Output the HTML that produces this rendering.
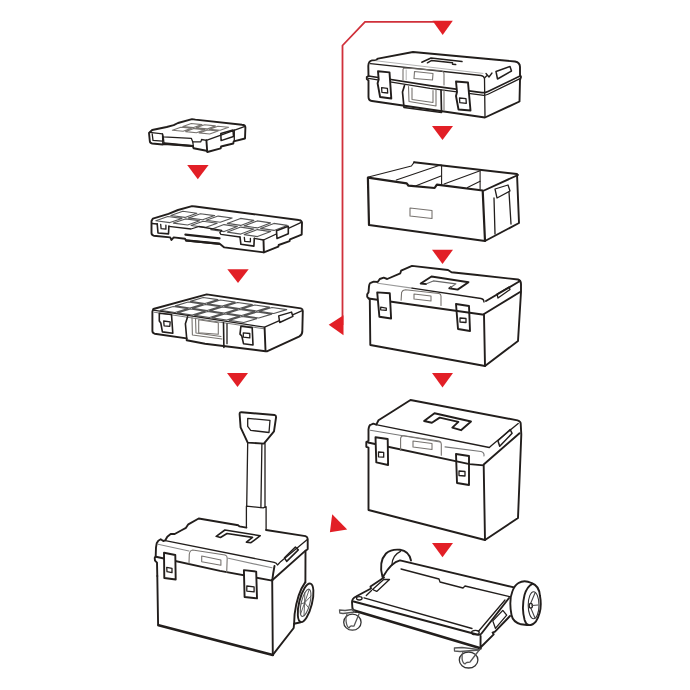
<!DOCTYPE html>
<html><head><meta charset="utf-8"><title>Toolbox system</title>
<style>
html,body{margin:0;padding:0;background:#fff;width:690px;height:690px;overflow:hidden;font-family:"Liberation Sans",sans-serif;}
svg{display:block}
.k{fill:none;stroke:#221e1c;stroke-width:1.9;stroke-linejoin:round;stroke-linecap:round}
.t{fill:none;stroke:#221e1c;stroke-width:1.3;stroke-linejoin:round;stroke-linecap:round}
.g{fill:none;stroke:#77736f;stroke-width:1.1;stroke-linejoin:round;stroke-linecap:round}
.h{fill:none;stroke:#221e1c;stroke-width:2.6;stroke-linejoin:round;stroke-linecap:round}
.r{fill:#e21f26}
.rl{fill:none;stroke:#d0303a;stroke-width:1.8}
</style></head>
<body>
<svg width="690" height="690" viewBox="0 0 690 690">
<!-- red path + arrows -->
<g id="red">
<polyline class="rl" points="342.5,325 342.5,45.5 365,21.8 434,21.8"/>
<polygon class="r" points="432.5,20.7 452.8,20.7 442.7,34.9"/>
<polygon class="r" points="343.5,315.2 343.5,335.2 328.7,324.8"/>
<polygon class="r" points="432,125.9 453,125.9 442.5,140"/>
<polygon class="r" points="432,249.8 453,249.8 442.5,263.9"/>
<polygon class="r" points="432,373.1 453,373.1 442.5,387.5"/>
<polygon class="r" points="432,543 453,543 442.5,557.2"/>
<polygon class="r" points="187.2,165.1 208.6,165.1 197.8,179.3"/>
<polygon class="r" points="227.3,269.3 248.7,269.3 238,282.9"/>
<polygon class="r" points="227,373 248,373 237.5,387"/>
<polygon class="r" points="332.2,514.3 329.9,532.2 347.2,529.6"/>
</g>

<!-- Box A: case -->
<g id="A">
<path class="k" d="M368.3,66 Q368.5,61 372,60.4 L376.1,60.1 L378,58.6 L413,52 L515,61.5 Q520,62.5 520,67 L520,75 L521,77 L520,80 L519.5,101.5 L485,117.5 L372,101 Q368.5,100.5 368.5,97 L368.5,80.5 L366.8,79 L366.8,77 L368.5,76 Z"/>
<path class="t" d="M370.5,63.7 L481,75.5 Q484,76 484.5,78.5 L485,117"/>
<path class="t" d="M485,77.5 L487,75.5 M486,73.5 L489,77 L492,73"/>
<path class="t" d="M368.5,76 L430,85.6 L482,92.6 Q485,93.1 488,91.6 L520,76" style="stroke-width:1.7"/>
<path class="t" d="M368.5,78.4 L430,88.4 L482,95.2 Q485,95.7 488,94.3 L520,78.6" style="stroke-width:1.2"/>
<path class="k" d="M378,71.3 L389.5,72.4 L391.3,98.5 L380.1,97 L377.6,83.3 L378.7,79.6 Z" style="fill:#fff"/>
<path class="t" d="M381.6,87.6 L387.4,88.3 L387.7,93 L381.9,92.3 Z"/>
<path class="k" d="M456,81.5 L468,82.5 L470.5,110.5 L458.5,109.5 L456,96 L457,92 Z" style="fill:#fff"/>
<path class="t" d="M459.5,98 L466,98.6 L466.3,103.3 L459.8,102.7 Z"/>
<path class="g" d="M403,80 L403,69.5 Q403,68 405,68 L440,70.5 Q444,71 444,74 L444,85"/>
<path class="g" d="M414.5,71.5 L433,73.5 L432.5,80 L414,78.5 Z"/>
<path class="k" d="M404.5,85.5 L402.5,92 L404,107.5 L441.5,112.5 L441,90" style="stroke-width:1.7"/>
<path class="g" d="M444,90 L444,110"/>
<path class="g" d="M408.5,86.5 L409,101.5 L436,106 L436,90"/>
<path class="g" d="M412,88 L412,99.5 L433,102.5 L433,90.5"/>
<path class="t" d="M421.8,62.2 L431,58 L462,61.6 M427.4,62.8 L431.7,60.4 L452.5,62.8 M452.5,64.2 L455.7,64.6" style="stroke-width:1.5"/>
<path class="g" d="M376,60.8 L483,73.4" style="stroke:#aaa;stroke-width:0.9"/>
<path class="t" d="M406.2,70 L406.2,79.8" style="stroke:#aaa;stroke-width:0.9"/>
<path class="k" d="M496,71.5 L510,66.5 L511.5,71 L497.5,79 Z" style="stroke-width:1.5"/>
</g>

<!-- Box B: open tray -->
<g id="B">
<path class="k" d="M367.9,177.6 L406.7,183.4 L408.5,185.7 L434.6,188 L436.9,184.6 L482.7,190.5 L485,241 L369,225 Z" style="stroke-width:2.2"/>
<path class="k" d="M414,162.2 L517,174 L519,223 L485,241"/>
<path class="k" d="M484,190.5 L518,175"/>
<path class="t" d="M441.6,165.1 L441.6,184.4" style="stroke-width:1.1"/>
<path class="t" d="M480.1,170.7 L480.1,189" style="stroke-width:1.1"/>
<path class="t" d="M368.5,177 L411.4,166 L414.3,162.2" style="stroke-width:1.1"/>
<path class="t" d="M396.3,180 L440.4,165" style="stroke-width:1.1"/>
<path class="t" d="M416,185.7 L441,176" style="stroke-width:1.1"/>
<path class="t" d="M444.1,183.9 L480.1,170.7" style="stroke-width:1.1"/>
<path class="t" d="M467.5,187.4 L480.1,181.3" style="stroke-width:1.1"/>
<path class="g" d="M410,208 L432,210.5 L432,218.5 L410,216 Z"/>
<path class="t" d="M495,189 L508,185 L510,191 L497,198 Z"/>
<path class="t" d="M494,198 L495,234"/>
<path class="t" d="M509,192 L511,224"/>
</g>

<!-- Box C -->
<g id="C">
<path class="k" d="M369,286.3 Q369.5,283 370.7,282.9 L373.7,281.6 L377.7,282 L379.8,279 L383.7,277.7 L387.2,279 L400.3,273.3 L401.1,270.7 L412,265.9 L448,270 L451.5,272.2 L475,274.8 L518,279.5 Q521,280.5 521,284 L521,292 L518,341 L485,366 L370.3,345 L369.8,299.4 L367.2,296.8 L367.2,294.2 L368.5,292.4 Z"/>
<path class="g" d="M377.7,283.3 L412,288.1" style="stroke:#999"/>
<path class="t" d="M412,288.1 L481,298.5 Q484,299 484,302"/>
<path class="k" d="M368.5,298.5 L484,314.7 L485,366"/>
<path class="k" d="M484,314 L520,292"/>
<path class="k" d="M486,301 L520,281"/>
<path class="k" d="M377.2,292.4 L389.8,293.3 L391.1,318.5 L379.4,316.8 Z" style="fill:#fff"/>
<path class="t" d="M380.7,307.2 L386.3,308.1 L386.3,310.3 L380.7,309.8 Z"/>
<path class="k" d="M456,304 L469,306 L470,331 L458,329 Z"/>
<path class="t" d="M460,318 L466,318.5 L466,322.5 L460,322 Z"/>
<path class="g" d="M401.1,300.3 L401.6,292.4 Q402.5,290 405.5,289.8 L439,293.5 Q441,294 441,296 L441,305.5"/>
<path class="g" d="M414,294 L431,296 L431,301 L414,299 Z"/>
<path class="k" d="M426,284 L420.7,283.5 L431.5,276.5 L468.5,282.2 L457.6,289.6 L449.3,288.3 L451,287"/>
<path class="g" d="M425.9,283.9 L433.3,280.9 L455.9,283.9 L450.2,287.8" style="stroke:#666"/>
<path class="t" d="M497,294 L509,287 L510,289.5 L498,298 Z"/>
</g>

<!-- Box D -->
<g id="D">
<path class="k" d="M368.5,429.4 Q369,425.5 370.3,425 L373.3,423.7 L376.3,424.6 L378.5,420.3 L391.6,412 L410.5,400 L517.6,420.4 Q520.7,421.5 520.7,423.5 L521.3,434.6 L518,518 L485,540 L368.5,510 L368.5,447.7 L366.3,446.8 L366.3,442 L368.5,440.7 Z"/>
<path class="t" d="M375.9,424.6 L489.3,447.5 L491.5,445.5 L494.2,443.2 L518.2,423.5"/>
<path class="g" d="M370.3,430.3 L440,442 M445,446.9 L481,451.5 Q484.5,452.5 484,456" style="stroke:#777"/>
<path class="k" d="M368,442.5 L469.6,464.1 L483.7,465.4 L485,540"/>
<path class="k" d="M483.7,464.5 L519.5,433.3"/>
<path class="k" d="M375.5,437.2 L387.7,439 L388.1,465 L376.3,462.4 Z" style="fill:#fff"/>
<path class="t" d="M378.5,452 L383.7,452.4 L383.7,457.2 L378.5,456.8 Z"/>
<path class="k" d="M456,454 L469,456 L469,485 L457,483 Z"/>
<path class="t" d="M459,471 L465,471.5 L465,476 L459,475.5 Z"/>
<path class="g" d="M400.6,450.4 L400.6,438.5 Q401,435.6 404,435.8 L439,441 Q441.3,441.8 441.3,444 L441.3,455.3"/>
<path class="g" d="M413,441 L432,443.5 L432,449.5 L413,447 Z"/>
<path class="k" d="M424.1,421 L434.5,413.2 L471,421.5 L461,430.2 L452.3,427.6 L458.4,421.9 L439.7,417.6 L431.9,422.8 Z"/>
<path class="k" d="M497.9,440.7 L510.2,429.6 L512.1,433.3 L499.7,446.3 Z" style="stroke-width:1.5"/>
</g>

<!-- Dolly E -->
<g id="E">
<!-- back-left wheel -->
<path class="k" d="M382.5,577 C380,568 381,559 386,553.5 C390,550 395,549.3 400,549.8 C405,550.5 409.5,553.5 411,560.5"/>
<path class="t" d="M391.8,565.3 C392,559 395,554 400.5,551.4"/>
<!-- top surface outline -->
<path class="k" d="M383.5,576 C388,568 393,562 400,560.3 L514,587.4"/>
<path class="k" d="M384,577.5 L370.5,586.5 L371,588.5 L356,596.5 Q352,598.5 352,602 L352.4,608 Q353,611 356,612"/>
<path class="t" d="M372.5,589.5 L383.7,579.5 L389.5,579.5 L376.7,591.4 Z"/>
<path class="t" d="M366.3,595.5 L371.5,590.5"/>
<path class="k" d="M353.6,601.5 L477,634.5 Q480,635.5 481.5,633.5 L509,598"/>
<path class="t" d="M364,597.8 L472,628.5"/>
<path class="t" d="M478.3,631.5 L505,600"/>
<path class="t" d="M401,569 L439,579 L440,582 L463,588 L465,586 L509.6,596.7"/>
<ellipse class="t" cx="475.4" cy="632.5" rx="3.8" ry="2.2"/>
<ellipse class="t" cx="359.3" cy="598.3" rx="2.8" ry="1.7"/>
<path class="h" d="M354,610.5 L480.5,648.3"/>
<path class="k" d="M480.6,636 L480.5,647.5 L493.7,634.3 L492.6,632.6 L495,631.7 L510,616"/>
<path class="t" d="M492.8,620.9 L502.8,610.4 L506.7,615.2 L495.4,628.3 Z"/>
<!-- right wheel -->
<path class="k" d="M518.5,583 C522,580.8 527,580.8 531.5,583 C536,584.5 539.5,589 540,596 C541.5,604 540.5,614 536,621.3 C533.5,624.5 530,625.5 527,625 L521,624.3 C516,623 512.5,620 511.5,615 C510,607 510,597 512.5,591 C514,587 516,584.5 518.5,583 Z"/>
<path class="k" d="M532.4,583.9 C528,586 526,590 524.5,595 C522.5,603 522.5,612 524.6,620 C525.5,623 527,624.5 528.5,625"/>
<ellipse class="g" cx="533.6" cy="605.2" rx="5.4" ry="13.5" style="stroke:#333"/>
<ellipse class="t" cx="530.8" cy="605.7" rx="1.6" ry="2.4"/>
<path class="g" d="M530.8,603 L535,593 M530.8,608 L535,618 M532,605.5 L538,605" style="stroke:#444"/>
<!-- casters -->
<ellipse class="t" cx="352.4" cy="622.2" rx="8.7" ry="8" style="stroke:#333"/>
<path class="t" d="M347,614 C345,618 346,626 349,628 C351,624 353,627 354,626 L359,614" style="stroke:#555"/>
<path class="t" d="M339.5,610 L345,610.5 L352.4,609.5 L355,612 L343,613.5 L339.8,613 Z" style="stroke:#555"/>
<ellipse class="t" cx="468.6" cy="660" rx="9.3" ry="8" style="stroke:#333"/>
<path class="t" d="M463,652 C461,656 462,663 465,664 C467,661 469,663 470,662 L480,649" style="stroke:#555"/>
<path class="t" d="M454.4,648 L462,647.5 L476,649.2 L479.5,650 L460,651.5 L454.5,651 Z" style="stroke:#555"/>
</g>

<!-- Organizer F (small) -->
<g id="F">
<path class="k" d="M149,133 L152.2,130 L166.7,127 L173.7,125.2 L178,123 L192,119.1 L195.4,119.6 L242,124.8 Q245.4,125 245.4,127.5 L245,138.5 L233.7,141.3 L233.3,143.5 L221.1,146.5 L220.7,148.3 L207.4,152 L206.4,150.7 L193.6,148.3 L192.8,146 L164.1,144 L162.5,144.5 L152.2,143.5 Q149.8,143 149.8,141 Z"/>
<path class="t" d="M149.8,132.3 L162.5,133.9 L163.3,136.8 L191.3,138.3 L192.8,141.9 L200.8,141.9 L201.6,139.5 L206.4,140.3 L245,126.3"/>
<path class="t" d="M152.2,133.9 L153,140.3 L162.5,141.1 M162.5,133.9 L162.8,144"/>
<path class="t" d="M163.3,137.1 L164,143.5 M192.8,141.9 L193.6,148.3"/>
<path class="h" d="M164.3,143.4 L192.4,146" style="stroke-width:2.2"/>
<path class="k" d="M206.4,140.3 L207.2,151.5"/>
<path class="k" d="M220.8,133.5 L233,130 L233.5,136.5 L221.1,140.6 Z" style="stroke-width:1.5"/>
<path class="t" d="M234.3,130 L234.3,141.3"/>
<path class="g" d="M191.3,123.5 L201.9,124.6 L193.6,127.6 L182.9,126.5 Z M204.6,124.8 L215.3,125.9 L206.9,128.9 L196.2,127.8 Z M217.9,126.2 L228.6,127.2 L220.2,130.2 L209.6,129.2 Z M180.8,127.3 L191.4,128.3 L183.1,131.3 L172.4,130.3 Z M194.1,128.6 L204.8,129.7 L196.4,132.7 L185.7,131.6 Z M207.4,129.9 L218.1,131.0 L209.7,134.0 L199.1,132.9 Z"/>
</g>

<!-- Organizer G -->
<g id="G">
<path class="k" d="M151.5,221 L152.8,218.7 L168.5,213.9 L178,210 L192,206.1 L195.4,206.5 L298.7,220 Q301.5,220.2 302,222.5 L301.7,234.6 L290,239.3 L289.6,241.1 L278.7,245 L278.3,246.7 L263.9,252.4 L224.3,247.4 L220,244 L186,240.5 L185,238.7 L173.7,237.4 L171.5,240 L170.2,237.4 L153.7,235.7 Q151.5,235 151.5,233 Z"/>
<path class="g" d="M182.8,211.3 L196.9,213.2 L184.9,217.4 L170.8,215.5 Z M200.4,213.7 L214.6,215.6 L202.6,219.8 L188.4,217.9 Z M218.1,216.1 L232.2,218.0 L220.2,222.2 L206.1,220.3 Z M167.8,216.5 L181.9,218.4 L169.9,222.6 L155.8,220.7 Z M185.4,218.9 L199.6,220.8 L187.6,225.0 L173.4,223.1 Z M203.1,221.3 L217.2,223.2 L205.2,227.4 L191.1,225.5 Z M240.5,218.4 L253.8,220.4 L240.7,225.4 L227.3,223.4 Z M257.2,220.9 L270.5,222.9 L257.3,227.9 L244.0,225.9 Z M273.9,223.4 L287.2,225.4 L274.0,230.4 L260.6,228.4 Z M224.0,224.6 L237.3,226.6 L224.2,231.6 L210.8,229.6 Z M240.7,227.1 L254.0,229.1 L240.8,234.1 L227.5,232.1 Z M257.4,229.6 L270.7,231.6 L257.5,236.6 L244.2,234.6 Z" style="stroke:#555"/>
<path class="t" d="M152,223.5 L157.2,224 M168.9,226.3 L191,229 L198.9,226.5 L221.7,230.4 L219.8,232.6 L220.9,234.3 L240,237 M254.3,238.3 L263.5,240 L301.3,222.4"/>
<path class="k" d="M157.2,223.9 L158,233 L168.5,233.9 L168.9,226.1" style="stroke-width:1.6"/>
<path class="t" d="M160.7,224.3 L161.1,228.7 L165.9,229.1 L165.9,225.2"/>
<path class="k" d="M240,237 L240.9,244.3 L253.9,246.1 L254.3,238.3" style="stroke-width:1.6"/>
<path class="t" d="M244.3,237.4 L244.8,241.3 L250.4,241.8 L250.4,238.3"/>
<path class="h" d="M185.4,234.6 L219.5,238.4" style="stroke-width:2.2"/>
<path class="h" d="M186,240.3 L219.1,243.6" style="stroke-width:2.2"/>
<path class="k" d="M263.5,240.2 L263.9,252.4"/>
<path class="k" d="M276.5,230.7 L288.3,226.3 L288.3,233.7 L277,238.5 Z" style="stroke-width:1.6;fill:#fff"/>
</g>

<!-- Organizer H -->
<g id="H">
<path class="k" d="M153.3,309 L206.7,294.4 L300.9,308.4 Q302.8,309 302.8,311 L302.3,331.9 Q302,335 299,336.6 L267.4,351.2 L265.5,351.2 L205,343.7 L186.7,340.2 L186.7,338.4 L154.6,333.7 Q152.4,333 152.4,331 L152.4,311.5 Z"/>
<path class="g" d="M203.2,297.5 L217.9,299.6 L205.0,303.5 L190.3,301.4 Z M220.4,300.0 L235.1,302.1 L222.2,306.0 L207.5,303.9 Z M237.6,302.5 L252.3,304.6 L239.4,308.5 L224.7,306.4 Z M254.8,305.0 L269.5,307.1 L256.6,311.0 L241.9,308.9 Z M272.0,307.5 L286.7,309.6 L273.8,313.5 L259.1,311.4 Z M188.2,302.0 L202.9,304.1 L190.0,308.0 L175.3,305.9 Z M205.4,304.5 L220.1,306.6 L207.2,310.5 L192.5,308.4 Z M222.6,307.0 L237.3,309.1 L224.4,313.0 L209.7,310.9 Z M239.8,309.5 L254.5,311.6 L241.6,315.5 L226.9,313.4 Z M257.0,312.0 L271.7,314.1 L258.8,318.0 L244.1,315.9 Z M173.2,306.5 L187.9,308.6 L175.0,312.5 L160.3,310.4 Z M190.4,309.0 L205.1,311.1 L192.2,315.0 L177.5,312.9 Z M207.6,311.5 L222.3,313.6 L209.4,317.5 L194.7,315.4 Z M224.8,314.0 L239.5,316.1 L226.6,320.0 L211.9,317.9 Z M242.0,316.5 L256.7,318.6 L243.8,322.5 L229.1,320.4 Z" style="stroke:#555"/>
<path class="t" d="M153.3,310.2 L264.6,327.2 L302.3,310.7"/>
<path class="t" d="M154,312.2 L264,328.8" style="stroke:#777;stroke-width:1"/>
<path class="k" d="M264.6,327.7 L265.5,350.3"/>
<path class="k" d="M159.3,313.2 L171.5,314.5 L172.8,333.2 L162.4,331.9 L160.8,323 L159.3,321 Z" style="stroke-width:1.6"/>
<path class="t" d="M163.7,321 L170.2,321.9 L169.8,326.3 L164.1,325.8 Z"/>
<path class="k" d="M187.6,316.7 L185.4,323.7 L186.7,338.4" style="stroke-width:1.6"/>
<path class="k" d="M223.5,322.8 L223.9,347.5" style="stroke-width:1.6"/>
<path class="t" d="M227,323.7 L227,343.7"/>
<path class="g" d="M192,317.6 L192.4,335 L222,339 M195.5,318.2 L196,333 L221,336.5"/>
<path class="g" d="M198.7,319.8 L218.3,322.7 L218.3,334.3 L198.7,332.8 Z"/>
<path class="k" d="M240.9,326.3 L252.2,327.6 L253,345 L243.5,343.7 L241.8,336 L240,334.1 Z" style="stroke-width:1.6"/>
<path class="t" d="M243.3,332.8 L249.8,333.5 L249.8,337.9 L243.3,337.2 Z"/>
<path class="k" d="M278.7,315.9 L291.5,312.1 L292.9,316.4 L279.7,322.5 Z" style="stroke-width:1.5;fill:#fff"/>
</g>

<!-- Trolley box I -->
<g id="I">
<!-- telescopic handle -->
<path class="k" d="M247.7,442.6 L240.6,427.4 L239.6,414 Q239.6,412 241.6,412.2 L274.5,415 Q276.1,415.2 276.1,417 L274,431.4 L263.9,443.6 Z"/>
<path class="t" d="M247.7,418.3 L270,420.3 L269,432.5 L250.7,430.4 L247.7,426.4 Z"/>
<path class="t" d="M247.7,442.6 L246.7,506.5 M261.9,443.6 L260.9,507.5 M265,443.6 L265,506.5"/>
<path class="t" d="M246.4,506.2 L263.2,507.9 L266.1,506.7 L266.1,530 M246.4,506.2 L246.4,527.6"/>
<!-- box -->
<path class="k" d="M157.3,576 L157,562.7 L155,560.7 L154.7,558 L155.7,556 L156,547.3 L156.7,543.3 L158.3,540.7 L160.7,539.3 L163.3,541 L165.3,540.3 L167.3,536.7 L170.7,534 L174.7,534 L182,530 L186,527.8 L188.3,524.3 L198.7,518.5 L238.3,525.3 L239.4,526.4 L246.4,527.6 M266.1,530 L305.5,536.1 Q307.7,537 307.7,539 L307.7,549.1 L305.5,551 L305.4,582.4"/>
<path class="k" d="M157.3,576 L158.1,624.9 M294.1,623.7 L293.7,628 L272.8,654.8"/>
<path class="h" d="M158.6,625.3 L272.8,655"/>
<path class="t" d="M165.3,540.7 L274.2,562.4 Q276.5,563 277.5,565 L280.9,561.4 L307,539.7"/>
<path class="g" d="M158,544.3 L189,551 M228.4,558.3 L272,567.8" style="stroke:#888"/>
<path class="k" d="M156,556.7 L220,570.9 L272.2,580.6 Q273,574 274.5,566"/>
<path class="k" d="M272.2,580.2 L305.5,550.6"/>
<path class="k" d="M272.2,580 L272.8,654.8"/>
<path class="k" d="M164,552.7 L175.3,555 L175.7,579.5 L164.3,578 Z" style="fill:#fff"/>
<path class="t" d="M166.7,567.3 L172,568.3 L172,572.7 L167,571.7 Z"/>
<path class="k" d="M243.9,570.1 L256.2,571.6 L257,598.4 L244.6,597 Z" style="fill:#fff"/>
<path class="t" d="M246.8,586 L254.1,586.8 L254.1,591.9 L246.8,591.1 Z"/>
<path class="g" d="M189,563.3 L189.3,554 Q190,550.3 192.7,550 L225,555 Q227.2,555.6 227.2,558 L226.7,572.2"/>
<path class="g" d="M201.7,556 L220.9,560 L220.9,565.3 L201.7,561.8 Z"/>
<path class="k" d="M216.2,536.3 L224.9,530 L260.3,535.7 L251,542.7 L246.4,542.1 L252.5,537.4 L227,533.5 L220.5,537.5 Z" style="stroke-width:1.6"/>
<path class="k" d="M284.5,557.8 L295.4,547 L298.3,549.9 L286.7,561.4 Z" style="stroke-width:1.5"/>
<!-- wheel -->
<path class="k" d="M305.2,582.4 C299.8,589.8 296.3,601.1 294.6,614.1 L294.1,623.7 L300.7,622.3"/>
<ellipse class="k" cx="305.6" cy="602.8" rx="6.4" ry="19.8" transform="rotate(14 305.6 602.8)"/>
<ellipse class="g" cx="305.6" cy="602.8" rx="4.3" ry="14" transform="rotate(14 305.6 602.8)" style="stroke:#555"/>
<path class="g" d="M304.6,602.8 L308.6,607.8 M304.6,602.8 L304.0,615.8 M304.6,602.8 L300.6,614.0 M304.6,602.8 L301.0,603.8 M304.6,602.8 L304.8,592.8 M304.6,602.8 L309.3,589.3 M304.6,602.8 L311.0,596.0" style="stroke:#555;stroke-width:0.9"/>
</g>
</svg>
</body></html>
